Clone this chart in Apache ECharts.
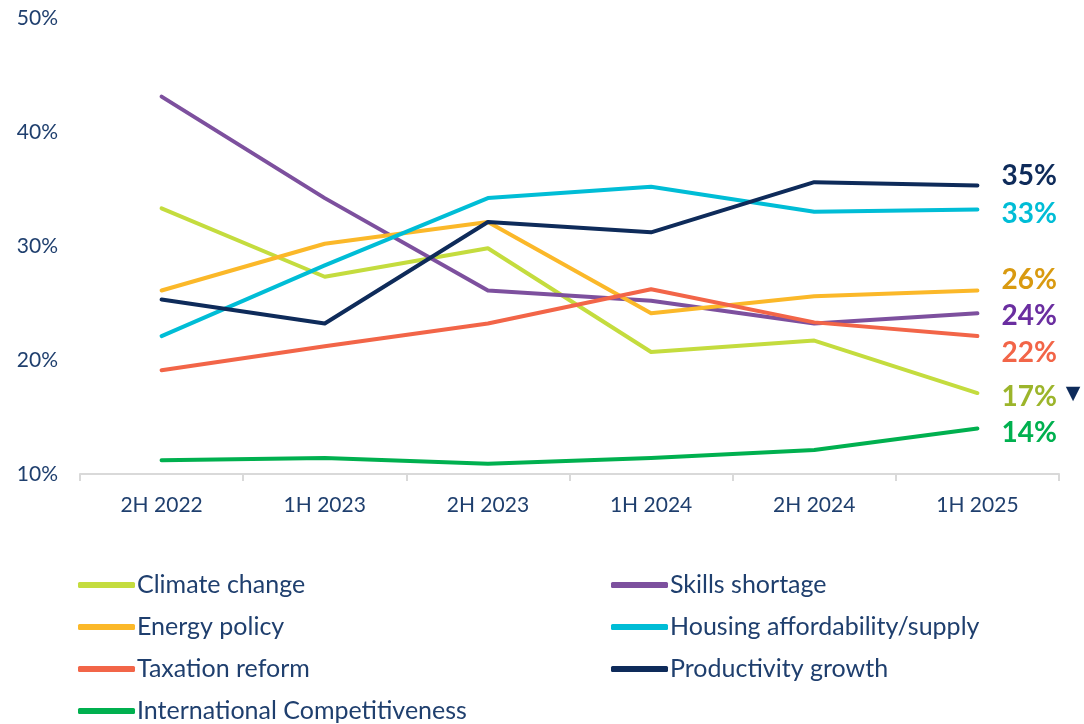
<!DOCTYPE html>
<html>
<head>
<meta charset="utf-8">
<script src="https://cdn.jsdelivr.net/npm/echarts@6/dist/echarts.min.js"></script>
<style>
  html, body { margin: 0; padding: 0; background: #fff; }
  #chart { width: 1084px; height: 724px; }
</style>
</head>
<body>
<div id="chart"></div>
<script>
// 类目与数据
var categories = ['2H 2022', '1H 2023', '2H 2023', '1H 2024', '2H 2024', '1H 2025']
var yTicks = [10, 20, 30, 40, 50]

var climateChange = [33.3, 27.3, 29.8, 20.7, 21.7, 17.1]
var skillsShortage = [43.1, 34.2, 26.1, 25.2, 23.2, 24.1]
var energyPolicy = [26.1, 30.2, 32.1, 24.1, 25.6, 26.1]
var housingAffordability = [22.1, 28.3, 34.2, 35.2, 33.0, 33.2]
var taxationReform = [19.1, 21.2, 23.2, 26.2, 23.3, 22.1]
var productivityGrowth = [25.3, 23.2, 32.1, 31.2, 35.6, 35.3]
var internationalCompetitiveness = [11.2, 11.4, 10.9, 11.4, 12.1, 14.0]

var textColor = '#1f3f6e'
var fontFamily = 'Lato, "Noto Sans", sans-serif'

function makeSeries(name, data, color, labelColor, offsetY, extra) {
  return {
    name: name,
    type: 'line',
    data: data,
    symbol: 'none',
    smooth: false,
    lineStyle: { width: 4, color: color, cap: 'round', join: 'round' },
    itemStyle: { color: color },
    endLabel: {
      show: true,
      distance: 24,
      offset: [0, offsetY],
      fontFamily: fontFamily,
      fontSize: 28,
      fontWeight: 'bold',
      color: labelColor,
      formatter: function (p) {
        var s = Math.round(p.value) + '%'
        return extra ? '{v|' + s + '}' + extra : s
      },
      rich: extra ? {
        v: { fontFamily: fontFamily, fontSize: 28, fontWeight: 'bold', color: labelColor },
        // 下降标记
        t: { fontFamily: '"DejaVu Sans"', fontSize: 19, color: '#0e2b5a', padding: [0, 0, 6, 9] }
      } : undefined
    },
    emphasis: { disabled: true }
  }
}

var legendBase = {
  top: 572,
  orient: 'vertical',
  height: 200,
  padding: 0,
  itemWidth: 57,
  itemHeight: 6,
  itemGap: 16,
  icon: 'roundRect',
  textStyle: { fontSize: 25, lineHeight: 26, color: textColor, fontFamily: fontFamily, padding: [0, 0, 0, -3] }
}

var chart = echarts.init(document.getElementById('chart'))
chart.setOption({
  backgroundColor: '#ffffff',
  animation: false,
  textStyle: { fontFamily: fontFamily },
  grid: { left: 80, right: 25, top: 18, bottom: 250 },
  legend: [
    Object.assign({}, legendBase, {
      left: 78,
      data: ['Climate change', 'Energy policy', 'Taxation reform', 'International Competitiveness']
    }),
    Object.assign({}, legendBase, {
      left: 611,
      data: ['Skills shortage', 'Housing affordability/supply', 'Productivity growth']
    })
  ],
  xAxis: {
    type: 'category',
    data: categories,
    boundaryGap: true,
    axisLine: { lineStyle: { color: '#d9d9d9', width: 2 } },
    axisTick: { show: true, length: 7, lineStyle: { color: '#d9d9d9', width: 2 } },
    axisLabel: { color: textColor, fontSize: 21, margin: 21, fontFamily: fontFamily }
  },
  yAxis: {
    type: 'value',
    min: yTicks[0],
    max: yTicks[yTicks.length - 1],
    interval: 10,
    axisLine: { show: false },
    axisTick: { show: false },
    splitLine: { show: false },
    axisLabel: { color: textColor, fontSize: 21, margin: 22, fontFamily: fontFamily, formatter: '{value}%' }
  },
  series: [
    makeSeries('Climate change', climateChange, '#c4dc3e', '#9cb52b', 4, '{t|▼}'),
    makeSeries('Skills shortage', skillsShortage, '#7d509e', '#6a2ea0', 3),
    makeSeries('Energy policy', energyPolicy, '#fbb829', '#d99a10', -10),
    makeSeries('Housing affordability/supply', housingAffordability, '#00bdd6', '#00bdd6', 4),
    makeSeries('Taxation reform', taxationReform, '#f26548', '#f26548', 17),
    makeSeries('Productivity growth', productivityGrowth, '#0e2b5a', '#0e2b5a', -10),
    makeSeries('International Competitiveness', internationalCompetitiveness, '#00b04f', '#00b04f', 5)
  ]
})
</script>
</body>
</html>
